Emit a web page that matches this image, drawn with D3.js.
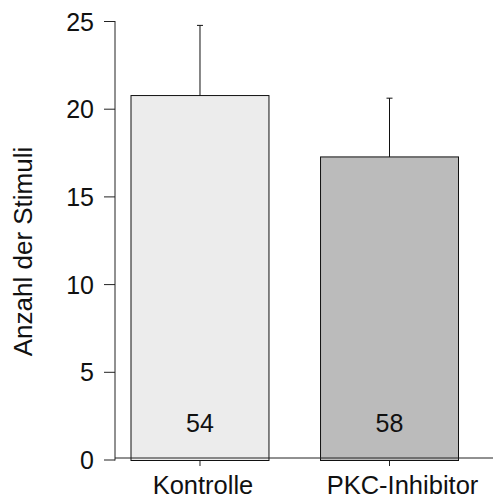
<!DOCTYPE html>
<html>
<head>
<meta charset="utf-8">
<script src="https://cdn.jsdelivr.net/npm/d3@7"></script>
<style>
  body { margin: 0; background: #fff; }
  svg text { font-family: "Liberation Sans", Arial, sans-serif; fill: #111; }
</style>
</head>
<body>
<svg id="chart" width="493" height="500"></svg>
<script>
// data
const categories = ["Kontrolle", "PKC-Inhibitor"];
const means = [20.75, 17.25];
const errors = [4.0, 3.35];
const counts = [54, 58];
const fills = ["#ececec", "#bbbbbb"];
const yTicks = [0, 5, 10, 15, 20, 25];

const svg = d3.select("#chart");

let y = d3.scaleLinear()
    .domain([0, 25])
    .range([459.5, 21]);

let x = d3.scaleBand()
    .domain(categories)
    .range([131, 458.5])
    .paddingInner(0.272)
    .paddingOuter(0);

// category labels sit a little right of the tick in the original
let labelShift = [3, 13];

// y axis
let yAxis = svg.append("g")
    .attr("transform", "translate(115,0)")
    .call(d3.axisLeft(y).tickValues(yTicks).tickSize(11).tickPadding(10));
yAxis.select(".domain").remove();
yAxis.append("line")
    .attr("x1", 0).attr("x2", 0)
    .attr("y1", y(25)).attr("y2", y(0) + 1)
    .attr("stroke", "#222");
yAxis.selectAll(".tick line").attr("stroke", "#222");
yAxis.selectAll(".tick text")
    .attr("font-size", 25)
    .attr("dy", "0.36em");

// bars
svg.append("g")
    .selectAll("rect.bar")
    .data(categories)
    .enter()
    .append("rect")
        .classed("bar", true)
        .attr("x", d => x(d))
        .attr("width", x.bandwidth())
        .attr("y", (d, i) => y(means[i]))
        .attr("height", (d, i) => y(0) + 1 - y(means[i]))
        .attr("fill", (d, i) => fills[i])
        .attr("stroke", "#111")
        .attr("stroke-width", 1);

// error bars (upper only)
let err = svg.append("g")
    .selectAll("g.err")
    .data(categories)
    .enter()
    .append("g")
        .classed("err", true);
err.append("line")
    .attr("x1", d => x(d) + x.bandwidth() / 2)
    .attr("x2", d => x(d) + x.bandwidth() / 2)
    .attr("y1", (d, i) => y(means[i]))
    .attr("y2", (d, i) => y(means[i] + errors[i]))
    .attr("stroke", "#111");
err.append("line")
    .attr("x1", d => x(d) + x.bandwidth() / 2 - 3)
    .attr("x2", d => x(d) + x.bandwidth() / 2 + 3)
    .attr("y1", (d, i) => y(means[i] + errors[i]))
    .attr("y2", (d, i) => y(means[i] + errors[i]))
    .attr("stroke", "#111");

// n labels
svg.append("g")
    .selectAll("text.count")
    .data(categories)
    .enter()
    .append("text")
        .classed("count", true)
        .attr("x", d => x(d) + x.bandwidth() / 2)
        .attr("y", 431.5)
        .attr("text-anchor", "middle")
        .attr("font-size", 25)
        .text((d, i) => counts[i]);

// x axis
let xAxis = svg.append("g")
    .attr("transform", `translate(0,${y(0) - 1.5})`);
xAxis.append("line")
    .attr("x1", 115).attr("x2", 493)
    .attr("y1", 0).attr("y2", 0)
    .attr("stroke", "#222");
xAxis.selectAll("line.xtick")
    .data(categories)
    .enter()
    .append("line")
        .classed("xtick", true)
        .attr("x1", d => x(d) + x.bandwidth() / 2)
        .attr("x2", d => x(d) + x.bandwidth() / 2)
        .attr("y1", 3).attr("y2", 8)
        .attr("stroke", "#222");
xAxis.selectAll("text.xlabel")
    .data(categories)
    .enter()
    .append("text")
        .classed("xlabel", true)
        .attr("x", (d, i) => x(d) + x.bandwidth() / 2 + labelShift[i])
        .attr("y", 36)
        .attr("text-anchor", "middle")
        .attr("font-size", 25.5)
        .text(d => d);

// y label
svg.append("text")
    .attr("transform", `translate(32,251.5) rotate(-90)`)
    .attr("text-anchor", "middle")
    .attr("font-size", 26)
    .text("Anzahl der Stimuli");
</script>
</body>
</html>
